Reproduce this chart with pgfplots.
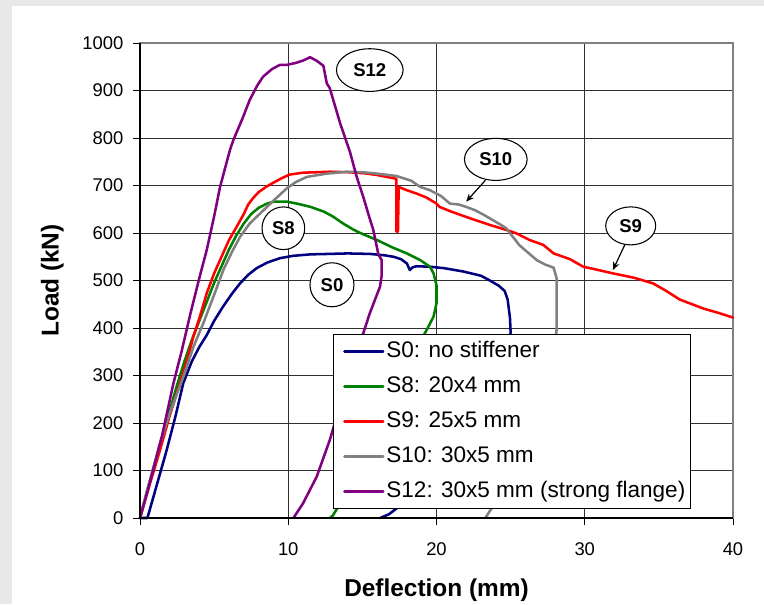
\documentclass[border=0pt]{standalone}
\usepackage{fontspec}
\setmainfont{Liberation Sans}
\usepackage{pgfplots}
\pgfplotsset{compat=1.18}
\usetikzlibrary{shapes.geometric,arrows.meta}
\definecolor{cSzero}{HTML}{000080}
\definecolor{cSeight}{HTML}{008000}
\definecolor{cSnine}{HTML}{FF0000}
\definecolor{cSten}{HTML}{808080}
\definecolor{cStwelve}{HTML}{800080}
\definecolor{bgc}{HTML}{E8E8E8}
\definecolor{gridc}{HTML}{303030}
\begin{document}
\begin{tikzpicture}
\fill[bgc] (0,0) rectangle (573pt,453pt);
\fill[white] (9pt,0) rectangle (573pt,448.5pt);
\begin{axis}[
  at={(105pt,64.5pt)}, anchor=south west,
  scale only axis, width=444.75pt, height=356.25pt,
  xmin=0, xmax=40, ymin=0, ymax=1000,
  xtick={0,10,20,30,40}, ytick={0,100,...,1000},
  tick align=outside, tick pos=left, major tick length=5.25pt,
  every tick/.style={black, line width=0.7pt},
  grid=major, major grid style={gridc, line width=0.7pt},
  axis line style={draw=gray, line width=1pt},
  clip=false,
  /pgf/number format/assume math mode=true,
  /pgf/number format/1000 sep={},
  tick label style={font=\fontsize{13.8}{16}\selectfont},
  yticklabel style={xshift=-3.75pt},
  xticklabel style={yshift=-9.75pt},
  xlabel={Deflection (mm)}, ylabel={Load (kN)},
  xlabel style={font=\fontsize{18.3}{22}\selectfont\bfseries, at={(axis description cs:0.5,-0.151)}, anchor=center},
  ylabel style={font=\fontsize{18.3}{22}\selectfont\bfseries, at={(axis description cs:-0.148,0.5)}, anchor=center},
  legend style={at={(axis description cs:0.3255,0.387)}, anchor=north west, draw=black, line width=0.7pt, fill=white,
    font=\fontsize{16.9}{20}\selectfont, row sep=7.4pt, inner xsep=2pt, inner ysep=3pt,
    nodes={text height=12.3pt, text depth=3.6pt, inner sep=1.5pt}},
  legend cell align=left,
  legend image code/.code={\path[draw=none,fill=none] (0pt,0pt) -- (36pt,0pt); \draw[#1, line width=1.9pt] (6.25pt,0pt) -- (35.25pt,0pt);},
  every axis plot/.append style={line width=1.9pt, line join=round, line cap=round},
]
\addplot[cSzero] coordinates {(0,0)(0.5,0)(1.0,55)(1.8,143)(2.4,215)(2.92,284)(3.5,330)(4.0,360)(4.5,385)(5.0,415)(5.6,445)(6.2,472)(6.75,494)(7.3,512)(7.87,526)(8.6,538)(9.44,547)(10.34,552)(11.5,555)(12.8,556)(14.0,557)(15.5,556)(16.5,553)(17.1,550)(17.6,545)(18.0,536)(18.2,522)(18.4,528)(18.66,530)(19.56,529)(20.5,526)(21.8,519)(23.0,510)(23.6,500)(24.2,489)(24.6,478)(24.8,460)(24.96,420)(25.0,390)(24.5,330)(18.0,40)(17.3,20)(16.8,8)(16.2,0)};
\addlegendentry{S0: no stiffener}
\addplot[cSeight] coordinates {(0,0)(0.5,60)(1.0,115)(1.5,170)(2.0,225)(2.5,280)(3.0,330)(3.5,375)(4.0,415)(4.5,455)(5.0,495)(5.5,530)(6.0,565)(6.5,595)(7.0,620)(7.5,640)(8.0,653)(8.5,661)(9.0,666)(9.9,666)(10.57,662)(11.5,655)(12.4,645)(13.0,635)(13.7,620)(14.4,607)(15.0,598)(16.0,585)(17.0,570)(18.0,557)(18.9,543)(19.56,529)(19.8,515)(20.0,490)(20.0,452)(19.8,424)(19.34,396)(18.5,350)(14.0,60)(13.3,20)(13.0,5)(12.8,0)};
\addlegendentry{S8: 20x4 mm}
\addplot[cSnine] coordinates {(0,0)(0.6,65)(1.35,143)(2.0,215)(2.7,284)(3.2,335)(3.6,382)(4.0,420)(4.5,473)(5.0,515)(5.4,543)(6.0,585)(6.52,613)(7.0,640)(7.3,660)(7.64,674)(8.0,686)(8.5,697)(9.0,706)(9.6,716)(10.1,723)(11.0,727)(12.0,728)(12.8,729)(14.0,728)(15.06,726)(16.0,722)(17.0,716)(17.3,714)(17.3,603)(17.4,603)(17.45,697)(18.0,690)(18.66,683)(19.3,675)(20.0,662)(20.2,655)(21.0,645)(22.26,631)(23.6,617)(24.96,604)(25.4,599)(26.3,585)(27.2,575)(27.9,557)(29.0,545)(29.9,529)(30.5,525)(31.9,515)(33.3,506)(34.6,494)(35.5,478)(36.4,460)(38.0,441)(39.0,432)(40.0,422)};
\addlegendentry{S9: 25x5 mm}
\addplot[cSten] coordinates {(0,0)(0.5,60)(1.35,157)(2.0,220)(2.92,297)(3.6,360)(4.27,410)(5.0,470)(5.62,522)(6.2,560)(6.75,592)(7.4,620)(8.1,641)(9.0,668)(9.9,694)(10.5,707)(11.24,718)(12.0,722)(12.6,725)(13.94,729)(15.0,728)(16.0,725)(17.3,720)(18.3,710)(18.9,697)(19.56,690)(20.3,678)(20.9,662)(21.5,660)(22.0,655)(22.6,648)(23.2,638)(23.8,627)(24.3,618)(24.7,610)(25.0,598)(25.6,574)(26.2,558)(26.76,543)(27.3,534)(27.9,527)(28.1,505)(28.1,480)(28.1,396)(28.0,370)(24.2,40)(23.6,15)(23.3,0)};
\addlegendentry{S10: 30x5 mm}
\addplot[cStwelve] coordinates {(0,0)(0.5,55)(1.0,115)(1.5,175)(2.25,283)(2.8,350)(3.4,430)(4.0,505)(4.5,564)(5.0,635)(5.4,697)(6.07,775)(6.3,796)(6.9,840)(7.4,880)(7.9,910)(8.3,929)(8.9,945)(9.44,954)(9.9,954)(10.5,958)(11.0,963)(11.47,970)(11.9,963)(12.37,952)(12.6,915)(12.8,905)(13.5,831)(14.17,770)(14.6,720)(15.06,676)(15.5,630)(15.74,606)(16.08,555)(16.3,543)(16.3,510)(16.19,487)(15.5,431)(15.06,389)(13.94,284)(12.8,164)(11.92,87)(11.0,31)(10.35,0)};
\addlegendentry{S12: 30x5 mm (strong flange)}
\draw[black, line width=1pt] (axis cs:0,1000) -- (axis cs:0,0) -- (axis cs:40,0);
\begin{scope}[every node/.style={draw=black, line width=0.8pt, fill=white, inner sep=0pt, font=\fontsize{13.9}{16}\selectfont\bfseries}]
\node[ellipse, minimum width=50pt, minimum height=32pt] at (axis cs:15.5,943) {S12};
\node[ellipse, minimum width=47pt, minimum height=31.5pt] at (axis cs:24.0,755) {S10};
\node[ellipse, minimum width=37.5pt, minimum height=28.5pt] at (axis cs:33.1,615) {S9};
\node[circle, minimum size=32pt] at (axis cs:9.67,610) {S8};
\node[circle, minimum size=33pt] at (axis cs:12.95,491) {S0};
\end{scope}
\draw[-{Stealth[length=6pt,width=5pt]}, line width=0.9pt] (axis cs:23.3,711) -- (axis cs:22.0,666);
\draw[-{Stealth[length=6pt,width=5pt]}, line width=0.9pt] (axis cs:32.7,575) -- (axis cs:31.9,522);
\end{axis}
\pgfresetboundingbox
\useasboundingbox (0,0) rectangle (573pt,453pt);
\end{tikzpicture}
\end{document}
